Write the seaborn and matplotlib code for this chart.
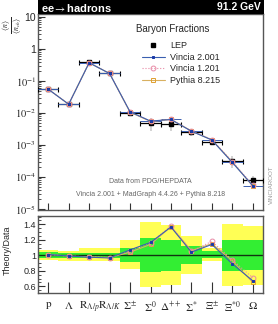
import numpy as np
import pandas as pd
import seaborn as sns
import matplotlib.pyplot as plt
from matplotlib.patches import Rectangle
from matplotlib.lines import Line2D
from matplotlib.ticker import FixedLocator, MultipleLocator, LogLocator, NullFormatter

# Bins and labels
labels = [r'$\mathrm{p}$', r'$\Lambda$', r'$\mathrm{R}_{\Lambda/p}$', r'$\mathrm{R}_{\Lambda/K}$',
          r'$\Sigma^{\pm}$', r'$\Sigma^{0}$', r'$\Delta^{++}$', r'$\Sigma^{*}$',
          r'$\Xi^{\pm}$', r'$\Xi^{*0}$', r'$\Omega$']

# LEP data (fraction per charged particle)
lep = [0.055, 0.019, 0.38, 0.178, 0.0102, 0.0048, 0.0046, 0.0026, 0.00126, 0.00032, 0.00008]

# Theory / Data ratios
vincia2001 = [1.01, 0.99, 0.975, 0.965, 1.07, 1.165, 1.365, 1.04, 1.14, 0.89, 0.67]
vincia1201 = [1.01, 0.99, 0.98, 0.97, 1.06, 1.16, 1.38, 1.05, 1.18, 0.94, 0.71]
pythia8215 = [1.01, 0.99, 0.98, 0.97, 1.04, 1.14, 1.37, 1.06, 1.15, 0.93, 0.65]

# Uncertainty bands (ratio units)
yellow_lo = [0.94, 0.93, 0.92, 0.93, 0.82, 0.59, 0.62, 0.76, 0.93, 0.60, 0.62]
yellow_hi = [1.07, 1.05, 1.09, 1.09, 1.20, 1.43, 1.39, 1.25, 1.09, 1.41, 1.38]
green_lo = [0.96, 0.97, 0.97, 0.97, 0.91, 0.79, 0.80, 0.89, 0.96, 0.80, 0.81]
green_hi = [1.04, 1.03, 1.03, 1.03, 1.10, 1.22, 1.20, 1.12, 1.05, 1.20, 1.20]

x = np.arange(len(labels))
lep = np.array(lep)
rel_err = (np.array(yellow_hi) - np.array(yellow_lo)) / 2

# name, ratios, line colour, marker, marker colour, line style, marker size
models_ = [
    ("Vincia 2.001", vincia2001, '#3a5fb0', 's', '#1a3aa8', '-', 2.0),
    ("Vincia 1.201", vincia1201, '#e88aa6', 'o', '#e88aa6', ':', 3.5),
    ("Pythia 8.215", pythia8215, '#d8b060', 's', '#e0a030', '-', 3.5),
]

rows = []
for name, r, *_ in models_:
    for i in x:
        rows.append({"bin": i, "model": name, "ratio": r[i], "value": r[i] * lep[i]})
df = pd.DataFrame(rows)

sns.set_style("ticks")
plt.rcParams['font.family'] = ['Liberation Sans', 'DejaVu Sans']
plt.rcParams['mathtext.fontset'] = 'stix'

W, H = 278, 324
fig = plt.figure(figsize=(W / 100, H / 100), dpi=100)
ax = fig.add_axes([38 / W, 1 - 210 / H, 225 / W, 196 / H])
rax = fig.add_axes([38 / W, 1 - 293 / H, 225 / W, 77 / H])

# --- main panel ---
ax.errorbar(x, lep, yerr=lep * rel_err, fmt='none', ecolor='#cccccc', elinewidth=1.2, zorder=2)
for name, r, lc, mk, mc, ls, ms in models_[::-1]:
    sub = df[df.model == name]
    sns.lineplot(data=sub, x="bin", y="value", ax=ax, color=lc, linestyle=ls, linewidth=0.8,
                 marker=mk, markersize=ms, markerfacecolor=(mc if name == "Vincia 2.001" else 'none'),
                 markeredgecolor=mc, markeredgewidth=0.7, label=name, zorder=4)
ax.errorbar(x, lep, xerr=0.5, fmt='s', color='black', markersize=2.6, elinewidth=0.9,
            capsize=1.8, capthick=0.8, zorder=3)
sub = df[df.model == "Vincia 2.001"]
ax.hlines(sub["value"], x - 0.5, x + 0.5, color='#3a5fb0', linewidth=0.7, zorder=3)

ax.set_yscale('log')
ax.set_ylim(10 ** -5.03, 10 ** 1.094)
ax.set_xlim(-0.5, len(labels) - 0.5)
ax.set_xlabel('')
ax.set_ylabel('')
ax.set_yticks([1e-5, 1e-4, 1e-3, 1e-2, 1e-1, 1, 10])
ax.set_yticklabels([r'$10^{-5}$', r'$10^{-4}$', r'$10^{-3}$', r'$10^{-2}$', r'$10^{-1}$', '1', '10'])
ax.yaxis.set_minor_locator(LogLocator(base=10, subs=np.arange(2, 10), numticks=10))
ax.yaxis.set_minor_formatter(NullFormatter())
ax.xaxis.set_major_locator(FixedLocator(x))
ax.set_xticklabels([])
ax.tick_params(axis='both', which='both', direction='in', labelsize=7.5, pad=1.5, color='#333333')
ax.tick_params(axis='x', which='major', length=5)
ax.tick_params(axis='y', which='major', length=5)
ax.tick_params(axis='y', which='minor', length=2.5)
for s in ax.spines.values():
    s.set_color('#555555')
    s.set_linewidth(1.0)

h, l = ax.get_legend_handles_labels()
lep_handle = Line2D([], [], color='black', marker='s', linestyle='none', markersize=2.6)
ax.legend([lep_handle] + [h[l.index(n)] for n in ['Vincia 2.001', 'Vincia 1.201', 'Pythia 8.215']],
          ['LEP', 'Vincia 2.001', 'Vincia 1.201', 'Pythia 8.215'], loc='upper left',
          bbox_to_anchor=(0.44, 0.885), frameon=False, fontsize=6.5, handlelength=2.6,
          handletextpad=0.6, labelspacing=0.3, borderpad=0)
ax.text(0.6, 0.9, 'Baryon Fractions', transform=ax.transAxes, ha='center', va='bottom', fontsize=7)
ax.text(0.5, 0.145, 'Data from PDG/HEPDATA', transform=ax.transAxes, ha='center', va='center',
        fontsize=5, color='#666666')
ax.text(0.5, 0.08, 'Vincia 2.001 + MadGraph 4.4.26 + Pythia 8.218', transform=ax.transAxes,
        ha='center', va='center', fontsize=5, color='#666666')

# --- ratio panel ---
rax.bar(x, np.array(yellow_hi) - np.array(yellow_lo), bottom=yellow_lo, width=1.0,
        color='#ffff55', linewidth=0, zorder=1)
rax.bar(x, np.array(green_hi) - np.array(green_lo), bottom=green_lo, width=1.0,
        color='#33ee33', linewidth=0, zorder=1)
rax.axhline(1.0, color='#113311', linewidth=1.0, zorder=2)
for name, r, lc, mk, mc, ls, ms in models_[::-1]:
    sub = df[df.model == name]
    sns.lineplot(data=sub, x="bin", y="ratio", ax=rax, color=lc, linestyle=ls, linewidth=0.8,
                 marker=mk, markersize=ms, markerfacecolor=(mc if name == "Vincia 2.001" else 'none'),
                 markeredgecolor=mc, markeredgewidth=0.7, legend=False, zorder=4)
rax.set_xlim(-0.5, len(labels) - 0.5)
rax.set_ylim(0.513, 1.507)
rax.set_xlabel('')
rax.set_ylabel('Theory/Data', fontsize=6.5)
rax.yaxis.set_label_coords(-0.115, 0.55)
rax.yaxis.set_major_locator(FixedLocator([0.6, 0.8, 1.0, 1.2, 1.4]))
rax.set_yticklabels(['0.6', '0.8', '1', '1.2', '1.4'])
rax.yaxis.set_minor_locator(MultipleLocator(0.05))
rax.xaxis.set_major_locator(FixedLocator(x))
rax.set_xticklabels(labels)
rax.tick_params(axis='both', which='both', direction='in', labelsize=6.5, pad=1.5, color='#333333')
rax.tick_params(axis='x', which='major', length=8, pad=5, labelsize=8)
rax.tick_params(axis='y', which='major', length=5)
rax.tick_params(axis='y', which='minor', length=2.5)
for s in rax.spines.values():
    s.set_color('#555555')
    s.set_linewidth(1.0)

# header bar and side texts
fig.patches.append(Rectangle((38 / W, 1 - 14 / H), 226 / W, 14 / H, transform=fig.transFigure,
                             facecolor='black', edgecolor='none', zorder=10))
fig.text(41 / W, 1 - 7.5 / H, r'ee$\rightarrow$hadrons', color='white', fontsize=8,
         fontweight='bold', ha='left', va='center', zorder=11)
fig.text(261 / W, 1 - 7.5 / H, '91.2 GeV', color='white', fontsize=7.5, fontweight='bold',
         ha='right', va='center', zorder=11)
fig.text(13 / W, 1 - 25 / H, r'$\frac{\langle n\rangle}{\langle n_{ch}\rangle}$', rotation=90,
         fontsize=8, ha='center', va='center')
fig.text(271 / W, 1 - 185 / H, 'VINCIAROOT', rotation=90, fontsize=4.5, color='#999999',
         ha='center', va='center')

fig.savefig('out.png', dpi=100)
